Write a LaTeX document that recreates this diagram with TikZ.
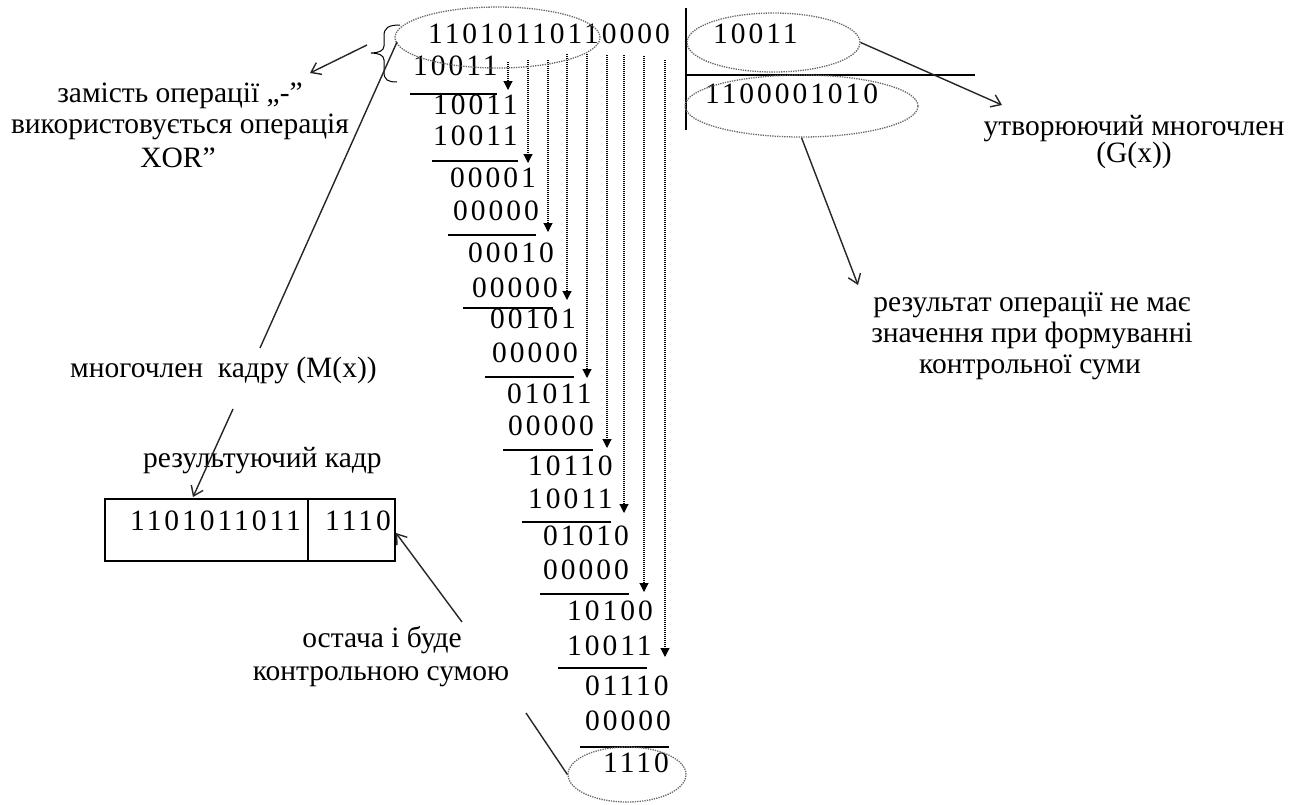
\documentclass[tikz,border=0pt]{standalone}
\usepackage{fontspec}
\setmainfont{Liberation Serif}
\newfontfamily\digf{Liberation Serif}[LetterSpace=10]
\usetikzlibrary{arrows.meta,shapes.geometric}
\begin{document}
\begin{tikzpicture}[x=1pt,y=-1pt,
  digits/.style={anchor=base west,inner sep=0pt,font=\digf\fontsize{29.5}{29.5}\selectfont},
  lbl/.style={anchor=base,inner sep=0pt,font=\fontsize{29.5}{29.5}\selectfont},
  lblw/.style={anchor=base west,inner sep=0pt,font=\fontsize{29.5}{29.5}\selectfont},
  oval/.style={ellipse,draw=black!60,line width=1.3pt,dash pattern=on 1.3pt off 1.1pt,inner sep=0pt},
  dotarrow/.style={line width=1.1pt,dash pattern=on 1pt off 1pt,-{Triangle[length=9pt,width=9pt]}},
  rule/.style={line width=1.3pt},
  pointer/.style={line width=1.4pt,black!85,-{Straight Barb[length=9pt,width=13pt]}},
  plain/.style={line width=1.4pt,black!85}]
\useasboundingbox (0,0) rectangle (1303,804);
\fill[white] (0,0) rectangle (1303,804);

% ---- long division, dividend and working rows
\node[digits] (r1) at (428,43) {11010110110000};
\foreach \n/\x/\y/\t in {2/413/75/10011, 3/433/114/10011, 4/433/145/10011,
    5/450/187/00001, 6/453/220/00000, 7/468/262/00010, 8/472/297/00000,
    9/490/328/00101, 10/492/362/00000, 11/507/403/01011, 12/508/435/00000,
    13/528/475/10110, 14/528/508/10011, 15/543/545/01010, 16/543/579/00000,
    17/567/620/10100, 18/567/655/10011, 19/585/695/01110, 20/585/730/00000,
    21/603/772/1110}
  \node[digits] (r\n) at (\x,\y) {\t};

% subtraction rules
\foreach \n/\a/\b/\y in {1/410/497/94, 2/432/518/161, 3/448/536/235, 4/463/553/308,
    5/485/574/377, 6/503/593/450, 7/522/611/522, 8/540/629/594, 9/558/647/668,
    10/580/669/747}
{
  \coordinate (ua\n) at (\a,\y);
  \coordinate (ub\n) at (\b,\y);
  \draw[rule] (ua\n) -- (ub\n);
}

% dotted arrows bringing the next digit down
\foreach \x/\a/\b in {508/62/90, 528/60/163, 548/60/232, 567/54/300, 587/54/378,
    607/55/448, 624/55/513, 644/56/592, 665/60/657}
{
  \coordinate (ds\x) at (\x,\a);
  \coordinate (dt\x) at (\x,\b);
  \draw[dotarrow] (ds\x) -- (dt\x);
}

% ---- divisor and quotient
\coordinate (vt) at (686,8);
\coordinate (vb) at (686,130);
\coordinate (hl) at (686,75);
\coordinate (hr) at (975,75);
\draw[rule] (vt) -- (vb);
\draw[rule] (hl) -- (hr);
\node[digits] (div) at (713,43) {10011};
\node[digits] (quo) at (705,103) {1100001010};

% ---- dotted ovals
\node[oval,minimum width=205pt,minimum height=61pt] (edd) at (497.5,37.5) {};
\node[oval,minimum width=173pt,minimum height=59pt] (edv) at (773.5,42.5) {};
\node[oval,minimum width=233pt,minimum height=62pt] (eqt) at (801.5,106) {};
\node[oval,minimum width=118pt,minimum height=55pt] (erm) at (627,774.5) {};

% ---- brace in front of the first step
\draw[line width=1pt] (400,25) .. controls (388,25) and (384,28) .. (384,36) -- (384,46)
  .. controls (384,51) and (378,53) .. (371,53)
  .. controls (378,53) and (384,55) .. (384,60) -- (384,72)
  .. controls (384,80) and (388,82) .. (397,82);

% ---- labels
\node[lbl] (xa) at (180,102) {замість операції „-”};
\node[lbl] (xb) at (180,133) {використовується операція};
\node[lbl] (xc) at (178,167) {XOR”};

\node[lbl] (ga) at (1134,135) {утворюючий многочлен};
\node[lbl] (gb) at (1134,162) {(G(x))};

\node[lbl] (qa) at (1032,311) {результат операції не має};
\node[lbl] (qb) at (1032,342) {значення при формуванні};
\node[lbl] (qc) at (1030,373) {контрольної суми};

\node[lblw] (mx) at (70,377) {многочлен\ \ кадру (M(x))};
\node[lblw] (rk) at (143,467) {результуючий кадр};

\node[lbl] (oa) at (382,647) {остача і буде};
\node[lbl] (ob) at (381,680) {контрольною сумою};

% ---- resulting frame
\draw[line width=1.3pt] (105,499) rectangle (395,561);
\coordinate (bt) at (308,499);
\coordinate (bb) at (308,561);
\draw[line width=1.3pt] (bt) -- (bb);
\node[digits] (fm) at (130,530) {1101011011};
\node[digits] (fc) at (325,530) {1110};

% ---- pointers
\coordinate (p1s) at (367,45);
\coordinate (p1e) at (310,73);
\draw[pointer] (p1s) -- (p1e);

\coordinate (p2s) at (397,42);
\coordinate (p2e) at (260,348);
\draw[plain] (p2s) -- (p2e);

\coordinate (p3s) at (233,409);
\coordinate (p3e) at (193,497);
\draw[pointer] (p3s) -- (p3e);

\coordinate (p4s) at (462,622);
\coordinate (p4e) at (396,533);
\draw[pointer] (p4s) -- (p4e);

\coordinate (p5s) at (526,713);
\draw[plain] (p5s) -- (erm.west);

\coordinate (p6e) at (1002,105);
\draw[pointer] (edv.east) -- (p6e);

\coordinate (p7e) at (858,285);
\draw[pointer] (eqt.south) -- (p7e);
\end{tikzpicture}
\end{document}
